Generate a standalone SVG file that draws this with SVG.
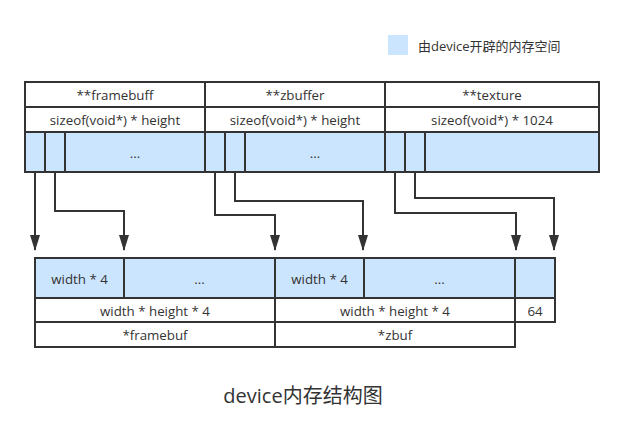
<svg xmlns="http://www.w3.org/2000/svg" width="624" height="430" viewBox="0 0 624 430">
<defs>
<style>
.c{stroke:#333;stroke-width:2;}
.w{fill:#fff;}
.b{fill:#cce5ff;}
.t{font-family:"Open Sans","Noto Sans CJK SC",sans-serif;font-size:13.3px;fill:#333;text-anchor:middle;dominant-baseline:central;}
.e{stroke:#333;stroke-width:2;fill:none;}
</style>
<marker id="ah" viewBox="0 0 16 10" refX="15" refY="5" markerWidth="16" markerHeight="10" markerUnits="userSpaceOnUse" orient="auto">
<polygon points="0,0 16,5 0,10" fill="#333"/>
</marker>
</defs>
<rect width="624" height="430" fill="#fff"/>
<g id="legend">
<rect x="388" y="35" width="20" height="20" class="b"/>
<text x="418" y="46" class="t" style="text-anchor:start;font-size:13px">由device开辟的内存空间</text>
</g>
<g id="framebuff">
<rect x="25" y="82" width="180" height="25" class="c w"/>
<text x="115" y="95" class="t">**framebuff</text>
<rect x="25" y="107" width="180" height="25" class="c w"/>
<text x="115" y="120" class="t">sizeof(void*) * height</text>
<rect x="25" y="132" width="20" height="40" class="c b"/>
<rect x="45" y="132" width="20" height="40" class="c b"/>
<rect x="65" y="132" width="140" height="40" class="c b"/>
<text x="135" y="153" class="t">...</text>
</g>
<g id="zbuffer">
<rect x="205" y="82" width="180" height="25" class="c w"/>
<text x="295" y="95" class="t">**zbuffer</text>
<rect x="205" y="107" width="180" height="25" class="c w"/>
<text x="295" y="120" class="t">sizeof(void*) * height</text>
<rect x="205" y="132" width="20" height="40" class="c b"/>
<rect x="225" y="132" width="20" height="40" class="c b"/>
<rect x="245" y="132" width="140" height="40" class="c b"/>
<text x="315" y="153" class="t">...</text>
</g>
<g id="texture">
<rect x="385" y="82" width="214" height="25" class="c w"/>
<text x="492" y="95" class="t">**texture</text>
<rect x="385" y="107" width="214" height="25" class="c w"/>
<text x="492" y="120" class="t">sizeof(void*) * 1024</text>
<rect x="385" y="132" width="20" height="40" class="c b"/>
<rect x="405" y="132" width="20" height="40" class="c b"/>
<rect x="425" y="132" width="174" height="40" class="c b"/>
</g>
<g id="framebuf">
<rect x="35" y="258" width="89" height="40" class="c b"/>
<text x="79.5" y="279" class="t">width * 4</text>
<rect x="124" y="258" width="151" height="40" class="c b"/>
<text x="199.5" y="279" class="t">...</text>
<rect x="35" y="298" width="240" height="24" class="c w"/>
<text x="155" y="311" class="t">width * height * 4</text>
<rect x="35" y="322" width="240" height="25" class="c w"/>
<text x="155" y="335" class="t">*framebuf</text>
</g>
<g id="zbuf">
<rect x="275" y="258" width="89" height="40" class="c b"/>
<text x="319.5" y="279" class="t">width * 4</text>
<rect x="364" y="258" width="151" height="40" class="c b"/>
<text x="439.5" y="279" class="t">...</text>
<rect x="275" y="298" width="240" height="24" class="c w"/>
<text x="395" y="311" class="t">width * height * 4</text>
<rect x="275" y="322" width="240" height="25" class="c w"/>
<text x="395" y="335" class="t">*zbuf</text>
</g>
<g id="tex">
<rect x="515" y="258" width="40" height="40" class="c b"/>
<rect x="515" y="298" width="40" height="24" class="c w"/>
<text x="535" y="311" class="t">64</text>
</g>
<g id="connectors">
<path d="M35,172 V250" class="e" marker-end="url(#ah)"/>
<path d="M55,172 V211 H124 V250" class="e" marker-end="url(#ah)"/>
<path d="M215,172 V215 H275 V250" class="e" marker-end="url(#ah)"/>
<path d="M235,172 V201 H363 V250" class="e" marker-end="url(#ah)"/>
<path d="M395,172 V213 H516 V250" class="e" marker-end="url(#ah)"/>
<path d="M415,172 V198 H554 V250" class="e" marker-end="url(#ah)"/>
</g>
<text x="303" y="395" class="t" style="font-size:20px">device内存结构图</text>
</svg>
